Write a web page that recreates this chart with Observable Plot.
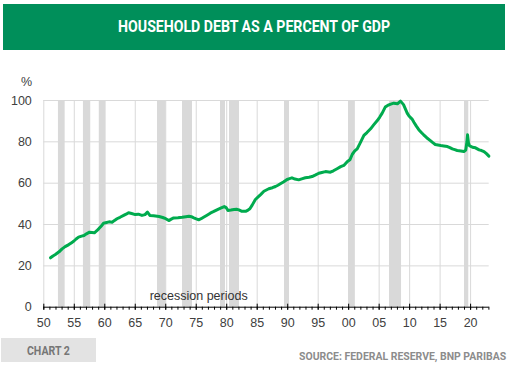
<!DOCTYPE html>
<html>
<head>
<meta charset="utf-8">
<script src="https://cdn.jsdelivr.net/npm/d3@7"></script>
<script src="https://cdn.jsdelivr.net/npm/@observablehq/plot@0.6"></script>
<style>
  html, body { margin: 0; padding: 0; background: #fff; }
  #wrap { position: relative; width: 508px; height: 366px; overflow: hidden; font-family: "Liberation Sans", Arial, sans-serif; }
  #banner { position: absolute; left: 3px; top: 4px; width: 502px; height: 46px; background: #008f5a; text-align: center; line-height: 46px; }
  #title { display: inline-block; color: #fff; font-family: Roboto, "Liberation Sans", sans-serif; font-weight: 700; font-size: 16px; white-space: nowrap; transform-origin: center center; }
  #chart { position: absolute; left: 0; top: 60px; }
  #chartbox { position: absolute; left: 1px; top: 338px; width: 95px; height: 24px; background: #e3e3e3; text-align: center; line-height: 24px; }
  #chartlbl { display: inline-block; color: #767676; font-family: Roboto, sans-serif; font-weight: 700; font-size: 12px; white-space: nowrap; transform-origin: center center; }
  #source { position: absolute; right: 2px; top: 349px; line-height: 14px; color: #8c8c8c; font-family: Roboto, sans-serif; font-weight: 700; font-size: 11.5px; white-space: nowrap; transform-origin: right center; }
</style>
</head>
<body>
<div id="wrap">
  <div id="banner"><span id="title">HOUSEHOLD DEBT AS A PERCENT OF GDP</span></div>
  <div id="chart"></div>
  <div id="chartbox"><span id="chartlbl">CHART 2</span></div>
  <div id="source">SOURCE: FEDERAL RESERVE, BNP PARIBAS</div>
</div>
<script>
// Household debt as % of GDP
const years = [1951.1,1951.5,1951.9,1952.5,1953.0,1953.5,1954.1,1954.5,1954.9,1955.3,1955.7,1956.2,1956.6,1957.0,1957.5,1958.3,1958.7,1959.0,1959.4,1959.8,1960.3,1960.7,1961.2,1961.6,1962.0,1962.5,1963.1,1963.5,1963.9,1964.4,1965.0,1965.5,1966.1,1966.6,1967.0,1967.4,1968.0,1968.9,1969.5,1970.0,1970.5,1970.9,1971.3,1972.0,1972.7,1973.3,1973.8,1974.2,1974.6,1975.0,1975.4,1975.8,1976.2,1976.7,1977.3,1977.8,1978.4,1979.0,1979.6,1979.9,1980.2,1980.7,1981.2,1981.6,1982.0,1982.5,1983.1,1983.5,1983.8,1984.2,1984.7,1985.2,1985.6,1986.1,1986.5,1986.9,1987.5,1988.0,1988.4,1988.8,1989.3,1989.9,1990.3,1990.7,1991.2,1991.8,1992.3,1992.9,1993.5,1994.0,1994.5,1995.1,1995.6,1996.2,1997.0,1997.5,1998.1,1998.7,1999.2,1999.8,2000.2,2000.6,2001.0,2001.4,2001.9,2002.5,2003.0,2003.6,2004.1,2004.7,2005.1,2005.5,2006.0,2006.4,2006.8,2007.4,2008.0,2008.5,2009.0,2009.3,2009.6,2009.9,2010.4,2010.7,2011.1,2011.5,2012.0,2012.3,2012.8,2013.4,2013.8,2014.2,2015.1,2015.6,2016.2,2016.6,2017.0,2017.4,2017.8,2018.4,2018.9,2019.2,2019.4,2019.5,2019.65,2019.8,2020.3,2020.8,2021.4,2021.8,2022.2,2022.6,2023.0];
const debtPct = [23.9,24.8,25.5,26.8,28.2,29.3,30.3,31.1,31.9,33.0,33.9,34.4,34.7,35.5,36.3,36.0,37.0,37.9,39.2,40.6,41.0,41.3,41.1,42.0,42.8,43.5,44.4,45.0,45.7,45.3,44.8,45.0,44.4,44.8,46.0,44.4,44.2,43.9,43.4,42.8,41.9,42.6,43.2,43.3,43.5,43.8,44.0,43.8,43.2,42.7,42.3,42.8,43.5,44.4,45.5,46.2,47.1,47.9,48.7,48.2,46.8,47.0,47.3,47.4,47.1,46.4,46.4,47.0,47.6,49.5,52.1,53.5,54.6,56.1,56.7,57.3,57.8,58.4,59.0,59.7,60.6,61.8,62.2,62.6,62.0,61.6,62.1,62.6,62.9,63.2,63.9,64.8,65.2,65.6,65.3,66.0,67.0,68.0,68.6,70.5,71.3,74.0,75.6,76.6,79.5,83.1,84.5,86.3,88.2,90.3,92.0,93.9,96.8,97.6,98.1,98.7,98.4,99.7,98.0,96.0,93.9,92.5,91.0,89.5,87.6,85.9,84.3,83.4,82.0,80.6,79.6,78.7,78.2,78.0,77.7,77.2,76.6,76.2,75.8,75.6,75.3,76.0,80.0,83.4,79.5,78.2,77.4,77.1,76.1,75.8,75.3,74.3,73.1];

// Recession periods (start, end), as placed on the chart
const recStart = [1952.4,1956.5,1959.1,1968.65,1972.75,1978.98,1980.46,1989.48,1999.98,2006.7,2019.0];
const recEnd   = [1953.5,1957.7,1960.2,1970.07,1974.39,1979.8,1982.1,1990.3,2001.1,2008.67,2019.7];

const yTicks = [0,20,40,60,80,100];
const xMajor = d3.range(1950, 2021, 5);
const xMinor = d3.range(1950, 2024, 1);
const annotation = [{x: 1975.4, y: 5.2, label: "recession periods"}];

const series = years.map((x, i) => ({x, y: debtPct[i]}));
const recessions = recStart.map((s, i) => ({s, e: recEnd[i]}));

const grid = "#d9d9d9";
const txt = "#404040";

const plot = Plot.plot({
  width: 508,
  height: 270,
  marginTop: 40,
  marginBottom: 23.3,
  marginLeft: 43.3,
  marginRight: 19.3,
  style: {fontFamily: '"Liberation Sans", Arial, sans-serif', fontSize: "12.5px", color: txt, background: "transparent"},
  x: {domain: [1950, 2023.05]},
  y: {domain: [0, 100]},
  marks: [
    Plot.gridY(yTicks.filter(d => d > 0), {stroke: grid, strokeOpacity: 1, strokeWidth: 1}),
    Plot.gridX(xMajor, {stroke: grid, strokeOpacity: 1, strokeWidth: 1}),
    Plot.rect(recessions, {x1: "s", x2: "e", fill: "#d9d9d9"}),
    Plot.ruleY([0], {stroke: "#000", strokeWidth: 1}),
    Plot.axisX(xMinor, {tickSize: 3, tickFormat: () => "", stroke: "#000", label: null}),
    Plot.axisX(xMajor, {tickSize: 6, dy: -3, tickFormat: () => "", stroke: "#000", label: null}),
    Plot.axisX(xMajor, {tickSize: 0, tickPadding: 10.6, tickFormat: d => String(d % 100).padStart(2, "0"), fill: txt, fontSize: 12.5, label: null}),
    Plot.axisY(yTicks, {tickSize: 0, tickPadding: 12, fill: txt, fontSize: 12.5, label: null}),
    Plot.text(["%"], {frameAnchor: "top-left", textAnchor: "middle", dx: -17.3, dy: -23, fill: txt, fontSize: 12.5}),
    Plot.text(annotation, {x: "x", y: "y", text: "label", fill: "#333", fontSize: 12.5}),
    Plot.line(series, {x: "x", y: "y", stroke: "#00ab4e", strokeWidth: 3, strokeLinejoin: "round", strokeLinecap: "round"})
  ]
});
document.getElementById("chart").appendChild(plot);

function fit(id, target) {
  const el = document.getElementById(id);
  const w = el.getBoundingClientRect().width;
  if (w > 0) el.style.transform = `scaleX(${target / w})`;
}
fit("title", 272);
fit("chartlbl", 43);
fit("source", 207);
</script>
</body>
</html>
